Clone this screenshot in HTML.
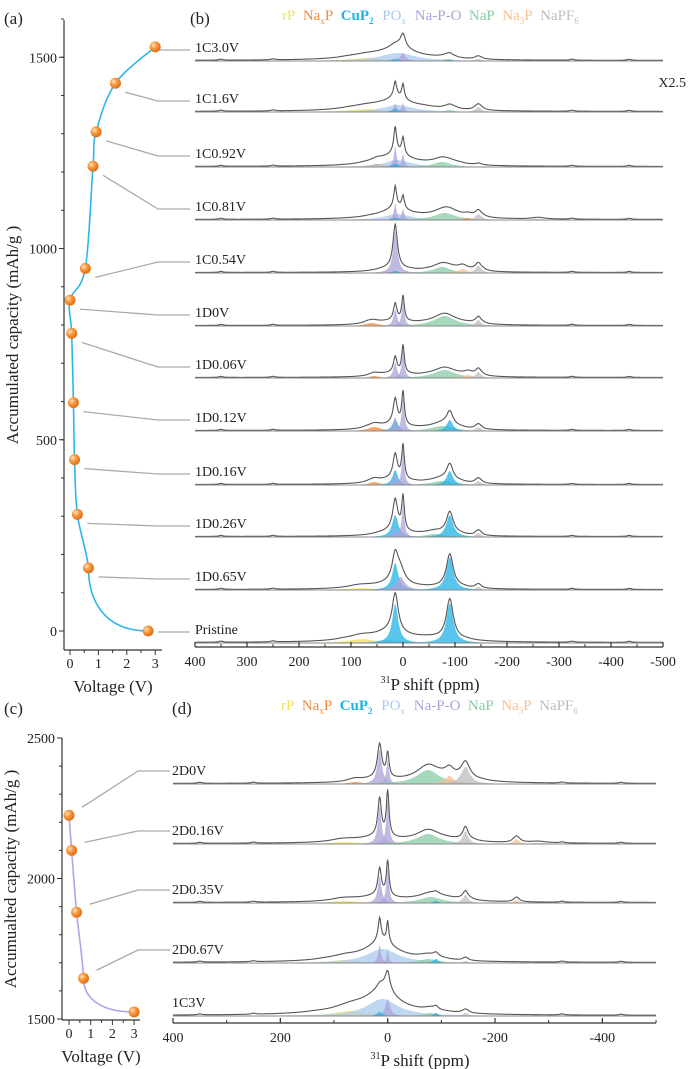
<!DOCTYPE html>
<html><head><meta charset="utf-8"><style>
html,body{margin:0;padding:0;background:#fff}
svg{display:block;font-family:"Liberation Serif",serif}
</style></head><body>
<svg id="fig" width="700" height="1069" viewBox="0 0 700 1069" font-family="Liberation Serif, serif">
<defs>
<radialGradient id="ball" cx="0.35" cy="0.35" r="0.7"><stop offset="0" stop-color="#ffe2c0"/><stop offset="0.45" stop-color="#f7963a"/><stop offset="1" stop-color="#e06a10"/></radialGradient>
</defs>
<g id="root"></g>
</svg>
<script>
// ===== data =====
const colors = ["#f3e25a","#f08a3c","#1fb2e6","#a9c9ef","#aba3d9","#88cca5","#f7bf8f","#bdbdbd"];
const legendNames = [["rP",""],["Na","x","P"],["CuP","2",""],["PO","x",""],["Na-P-O",""],["NaP",""],["Na","3","P"],["NaPF","6",""]];
// panel (a)
const aVolt = [2.75,0.65,0.26,0.16,0.12,0.06,0,0.54,0.81,0.92,1.6,3.0];
const aCap  = [0,165,305,448,597,778,865,948,1215,1305,1432,1527];
const aLabels = ["Pristine","1D0.65V","1D0.26V","1D0.16V","1D0.12V","1D0.06V","1D0V","1C0.54V","1C0.81V","1C0.92V","1C1.6V","1C3.0V"];
const aYTicks = [0,500,1000,1500];
const aXTicks = [0,1,2,3];
// panel (c)
const cVolt = [3,0.67,0.35,0.12,0];
const cCap  = [1525,1645,1880,2100,2225];
const cYTicks = [1500,2000,2500];
const cXTicks = [0,1,2,3];
const dLabels = ["1C3V","2D0.67V","2D0.35V","2D0.16V","2D0V"];
// spectra components: [ppm, height(px), hwhm(ppm), colorIndex(-1 = envelope only)]
const sb = [[350,0.6,5,-1],[250,0.6,5,-1],[-325,0.6,5,-1],[-435,0.6,5,-1]];
const bSpectra = [
 [[70,3,40,0],[10,8,40,3],[0,8,6,4],[15,2,10,2],[-85,2,12,5],[-90,1.5,6,2],[-145,2,8,7],[10,4,25,-1],[0,5,5,-1],[-90,1,12,-1]],
 [[70,3,40,0],[10,7,35,3],[15,9,3,4],[0,9,3,4],[15,3,8,2],[-90,2,10,5],[-145,5,7,7],[15,5,4,-1],[0,6,3,-1],[20,3,40,-1],[-90,2,12,-1],[-40,1,20,-1]],
 [[50,3,15,1],[10,7,30,3],[15,21,3,4],[0,13,3,4],[15,3,8,2],[-75,5,20,5],[15,3,4,-1],[0,4,4,-1],[20,3,40,-1],[-90,2,20,-1],[-145,1,8,-1]],
 [[10,6,30,3],[15,17,3,4],[0,11,3,4],[15,2,8,2],[-80,7,25,5],[-125,2,10,1],[-145,6,7,7],[-260,1,15,6],[15,3,4,-1],[0,2,4,-1],[20,3,35,-1],[-90,3,20,-1]],
 [[15,42,5,4],[15,2,8,2],[-75,6,20,5],[-115,4,10,6],[-145,7,7,7],[20,2,35,-1],[-90,2,20,-1]],
 [[60,3,15,1],[15,17,4,4],[0,25,3,4],[-80,10,25,5],[-145,6,6,7],[20,2,30,-1]],
 [[55,2,12,1],[15,16,4,4],[0,28,3,4],[-80,8,25,5],[-125,3,10,6],[-145,6,6,7],[20,2,30,-1]],
 [[55,4,15,1],[15,12,6,2],[15,14,4,4],[0,33,3,4],[-75,5,25,5],[-90,11,7,2],[-145,4,6,7],[20,3,30,-1],[-90,3,10,-1]],
 [[55,3,12,1],[15,15,6,2],[15,10,4,4],[0,34,3,4],[-75,4,25,5],[-90,14,7,2],[-145,4,6,7],[20,3,30,-1],[-90,2,10,-1]],
 [[15,22,7,2],[15,10,4,4],[0,34,3,4],[-60,3,20,5],[-90,22,8,2],[-145,4,6,7],[20,3,30,-1]],
 [[80,2,30,0],[15,27,7,2],[5,13,10,4],[-90,33,8,2],[-145,3,6,7],[20,4,35,-1]],
 [[80,4,30,0],[30,3,30,3],[15,39,7,2],[-90,40,8,2],[20,5,40,-1],[-50,2,40,-1]]
];
const bBases = [61,112,167,220,273,326,378,431,485,537,590,643];
const bNames = ["1C3.0V","1C1.6V","1C0.92V","1C0.81V","1C0.54V","1D0V","1D0.06V","1D0.12V","1D0.16V","1D0.26V","1D0.65V","Pristine"];
const dSpectra = [
 [[60,2,15,1],[15,34,5,4],[0,24,3,4],[-75,14,25,5],[-115,8,10,6],[-145,17,10,7],[-100,3,40,-1],[20,2,30,-1]],
 [[80,2,30,0],[15,38,4,4],[0,45,3,4],[-75,10,25,5],[-145,13,6,7],[-240,5,6,6],[-280,1,20,6],[20,4,35,-1],[-100,2,40,-1]],
 [[80,2,30,0],[15,27,4,4],[0,35,3,4],[-80,6,25,5],[-90,2,6,2],[-145,8,6,7],[-240,3,6,6],[20,4,35,-1],[-100,2,40,-1]],
 [[80,3,30,0],[10,14,35,3],[15,18,3,4],[0,15,2,4],[-75,4,20,5],[-90,4,6,2],[-145,2,6,7],[15,6,6,-1],[0,7,4,-1],[20,4,40,-1]],
 [[70,5,35,0],[10,17,35,3],[0,17,5,4],[15,4,6,2],[-80,3,15,5],[-90,3,5,2],[-145,3,6,7],[5,5,12,-1],[20,5,50,-1]]
];
const dBases = [784,844,903,963,1016].reverse();
const dNames = ["2D0V","2D0.16V","2D0.35V","2D0.67V","1C3V"];
const bXTicks = [400,300,200,100,0,-100,-200,-300,-400,-500];
const dXTicks = [400,200,0,-200,-400];

// ===== helpers =====
const NS="http://www.w3.org/2000/svg";
const root=document.getElementById('root');
function mk(tag,attrs,parent){const e=document.createElementNS(NS,tag);for(const k in attrs)e.setAttribute(k,attrs[k]);(parent||root).appendChild(e);return e;}
function txt(x,y,s,size,anchor,parent,fill){const t=mk('text',{x:x,y:y,'font-size':size,'text-anchor':anchor||'start',fill:fill||'#222','font-family':'Liberation Serif, serif'},parent);t.textContent=s;return t;}
function grp(name){const g=mk('g',{});return g;}
function smooth(pts){
 // first segment: flat then steep (knee shape)
 let d='M'+pts[0][0]+','+pts[0][1];
 const a=pts[0],b=pts[1];
 d+=' C'+(b[0]+(a[0]-b[0])*0.25).toFixed(1)+','+a[1]+' '+b[0]+','+(a[1]+(b[1]-a[1])*0.5).toFixed(1)+' '+b[0]+','+b[1];
 for(let i=1;i<pts.length-1;i++){const p0=pts[Math.max(0,i-1)],p1=pts[i],p2=pts[i+1],p3=pts[Math.min(pts.length-1,i+2)];
  const q0=(i===1)?[p1[0],p1[1]+(p1[1]-p2[1])]:p0;
  const c1=[p1[0]+(p2[0]-q0[0])/6,p1[1]+(p2[1]-q0[1])/6],c2=[p2[0]-(p3[0]-p1[0])/6,p2[1]-(p3[1]-p1[1])/6];d+=' C'+c1[0].toFixed(1)+','+c1[1].toFixed(1)+' '+c2[0].toFixed(1)+','+c2[1].toFixed(1)+' '+p2[0].toFixed(1)+','+p2[1].toFixed(1);}return d;}
function lor(x,c,w){const u=(x-c)/w;return 1/(1+u*u);}

// ===== cap panels =====
function capPanel(name,X,volts,caps,yTicks,xTicks,yMinorStep,yMin,yMax,axTop,lineColor,ytitle){
 const g=grp(name);
 const axes=mk('g',{},g);
 mk('line',{x1:X.x0,y1:axTop,x2:X.x0,y2:X.y0,stroke:'#333','stroke-width':1.2},axes);
 mk('line',{x1:X.x0,y1:X.y0,x2:X.x1,y2:X.y0,stroke:'#333','stroke-width':1.2},axes);
 for(let c=yMin;c<=yMax;c+=yMinorStep){mk('line',{x1:X.x0-3,y1:X.ys(c),x2:X.x0,y2:X.ys(c),stroke:'#333'},axes);}
 yTicks.forEach(c=>{mk('line',{x1:X.x0-5,y1:X.ys(c),x2:X.x0,y2:X.ys(c),stroke:'#333'},axes);const t=txt(X.x0-7,X.ys(c)+5,String(c),14,'end',axes);});
 for(let v=0;v<=3;v+=0.5){mk('line',{x1:X.xs(v),y1:X.y0,x2:X.xs(v),y2:X.y0+(v%1?3:5),stroke:'#333'},axes);}
 xTicks.forEach(v=>{const t=txt(X.xs(v),X.y0+18,String(v),14,'middle',axes);});
 const xt=txt((X.x0+X.x1)/2,X.y0+42,'Voltage (V)',17,'middle',axes);
 const cy=(axTop+X.y0)/2;const yt=txt(0,0,ytitle,17,'middle',axes);yt.setAttribute('transform','translate('+(X.x0-46)+','+cy+') rotate(-90)');
 const idx=caps.map((c,i)=>i).sort((a,b)=>caps[a]-caps[b]);
 const pts=idx.map(i=>[X.xs(volts[i]),X.ys(caps[i])]);
 const l=mk('path',{d:smooth(pts),fill:'none',stroke:lineColor,'stroke-width':1.6},g);
 
 return g;
}
const ax={x0:64,x1:162,y0:650,xs:v=>70+v*28.4,ys:c=>631-c*0.3825};
const ga=capPanel('panel-a',ax,aVolt,aCap,aYTicks,aXTicks,100,0,1600,20,'#2bb6ea','Accumulated capacity (mAh/g  )');
aCap.forEach((c,i)=>{
 const px=ax.xs(aVolt[i]),py=ax.ys(c),ly=bBases[11-i]-11;
 const sx=px+10, sy=(i===0||i===11)?ly:py+9;
 const p=mk('polyline',{points:sx+','+sy+' 158,'+ly+' 190,'+ly,fill:'none',stroke:'#aaa','stroke-width':1.3},ga);
 
});
aCap.forEach((c,i)=>{const m=mk('circle',{cx:ax.xs(aVolt[i]),cy:ax.ys(c),r:5.5,fill:'url(#ball)'},ga);});

const cx={x0:62,x1:140,y0:1020,xs:v=>69+v*21.7,ys:c=>1019-(c-1500)*0.281};
const gc=capPanel('panel-c',cx,cVolt,cCap,cYTicks,cXTicks,100,1500,2500,738,'#aaa8e6','Accumualted capacity (mAh/g  )');
cCap.forEach((c,i)=>{
 if(i===0)return;
 const px=cx.xs(cVolt[i]),py=cx.ys(c),ly=dBases[i]-13;
 const p=mk('polyline',{points:(px+13)+','+(py-8)+' 138,'+ly+' 170,'+ly,fill:'none',stroke:'#aaa','stroke-width':1.3},gc);
 
});
cCap.forEach((c,i)=>{const m=mk('circle',{cx:cx.xs(cVolt[i]),cy:cx.ys(c),r:5.5,fill:'url(#ball)'},gc);});

// ===== spectra =====
function spectraPanel(name,spectra,bases,names,xs,xL,xR,axisY,ticks,minorStep,labelX,titleX){
 const g=grp(name);
 spectra.forEach((comps,k)=>{
  const base=bases[k];
  const tg=mk('g',{},g);
  const all=comps.concat(sb);
  all.forEach(cm=>{
   if(cm[3]<0)return;
   let d='M'+xs(400)+','+base;
   for(let p=400;p>=-500;p-=1){d+=' L'+xs(p).toFixed(1)+','+(base-cm[1]*lor(p,cm[0],cm[2])).toFixed(2);}
   d+=' L'+xs(-500)+','+base+' Z';
   const a=mk('path',{d:d,fill:colors[cm[3]],'fill-opacity':0.75,stroke:'none'},tg);
   
  });
  let d='';
  for(let p=400;p>=-500;p-=1){let s=0;all.forEach(cm=>s+=cm[1]*lor(p,cm[0],cm[2]));const off=2*Math.min(1,s/3);d+=(d?' L':'M')+xs(p).toFixed(1)+','+(base-0.5-s-off).toFixed(2);}
  const e=mk('path',{d:d,fill:'none',stroke:'#555','stroke-width':1.1},tg);
  
  mk('line',{x1:xs(400),y1:base,x2:xs(-500),y2:base,stroke:'#888','stroke-width':1},tg);
  const t=txt(labelX,base-9,names[k],14,'start',tg);
 });
 const axg=mk('g',{},g);
 mk('line',{x1:xL,y1:axisY,x2:xR,y2:axisY,stroke:'#333','stroke-width':1.3},axg);
 for(let p=400;p>=-500;p-=minorStep){mk('line',{x1:xs(p),y1:axisY,x2:xs(p),y2:axisY-3,stroke:'#333'},axg);}
 ticks.forEach(p=>{mk('line',{x1:xs(p),y1:axisY,x2:xs(p),y2:axisY-5,stroke:'#333','stroke-width':1.2},axg);const t=txt(xs(p),axisY+19,String(p),14,'middle',axg);});
 const tt=mk('text',{x:titleX,y:axisY+43,'font-size':17,'text-anchor':'middle',fill:'#222','font-family':'Liberation Serif, serif'},axg);
 tt.innerHTML='<tspan font-size="10" dy="-7">31</tspan><tspan dy="7">P shift (ppm)</tspan>';
 
 return g;
}
const bxs=p=>195+(400-p)*0.52;
spectraPanel('panel-b',bSpectra,bBases,bNames,bxs,195,663,647,bXTicks,50,195,430);
const dxs=p=>173+(400-p)*0.5367;
spectraPanel('panel-d',dSpectra,dBases.slice().reverse(),dNames,dxs,173,656,1023,dXTicks,100,172,420);

// legends
function legend(y,x0){
 const g=grp('legend');
 const t=mk('text',{x:x0,y:y,'font-size':15,fill:'#222','font-family':'Liberation Serif, serif','xml:space':'preserve'},g);
 legendNames.forEach((n,i)=>{
  const s=mk('tspan',{fill:colors[i],'font-weight':i===2?'bold':'normal'},t);
  
  s.appendChild(document.createTextNode((i?'\u00a0\u00a0':'')+n[0]));
  if(n.length===3||i===2||i===3||i===7){
   const sub=mk('tspan',{'font-size':9,dy:4},s);sub.textContent=n[1];
   const rest=mk('tspan',{dy:-4},s);rest.textContent=n[2]||'\u200a';
  }
 });
}
legend(20,282);
legend(710,281);

[['(a)',4,24],['(b)',190,24],['(c)',4,714],['(d)',172,714]].forEach(l=>{const t=txt(l[1],l[2],l[0],17,'start');});
const x25=txt(686,87,'X2.5',14,'end');
</script>
</body></html>
